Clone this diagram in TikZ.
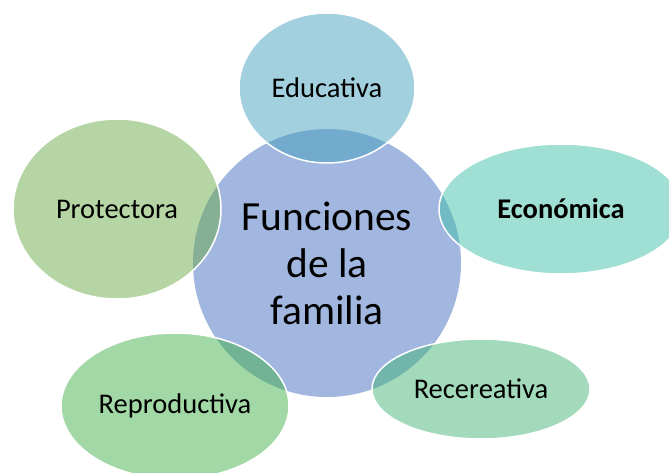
\documentclass[tikz,border=0pt]{standalone}
\usepackage{fontspec}
\setmainfont{Carlito}
\usetikzlibrary{shapes.geometric}
\definecolor{centro}{RGB}{161,183,224}
\definecolor{azul}{RGB}{71,161,189}
\definecolor{turquesa}{RGB}{65,191,169}
\definecolor{oliva}{RGB}{109,171,75}
\definecolor{verde}{RGB}{69,177,75}
\definecolor{menta}{RGB}{69,181,119}
\begin{document}
\begin{tikzpicture}[x=1pt, y=-1pt,
    nucleo/.style={circle, fill=centro, inner sep=0pt, minimum size=268pt, align=center,
                   font=\fontsize{41.5}{47}\selectfont},
    funcion/.style={ellipse, draw=white, line width=1.5pt, fill opacity=0.5, text opacity=1,
                    inner sep=0pt, font=\fontsize{28.5}{34}\selectfont}]
    \useasboundingbox (0,0) rectangle (669,473);
    % centro
    \node[nucleo] (familia) at (327,263) {Funciones\\de la\\familia};
    % funciones alrededor
    \node[funcion, fill=azul, minimum width=176pt, minimum height=150pt] (educativa) at (327,88) {Educativa};
    \node[funcion, fill=turquesa, minimum width=244pt, minimum height=130pt] (economica) at (561,209) {\bfseries Económica};
    \node[funcion, fill=menta, minimum width=218pt, minimum height=100pt] (recreativa) at (481,389) {Recereativa};
    \node[funcion, fill=verde, minimum width=228pt, minimum height=146pt] (reproductiva) at (175,406) {Reproductiva};
    \node[funcion, fill=oliva, minimum width=208pt, minimum height=180pt] (protectora) at (117,209) {Protectora};
\end{tikzpicture}
\end{document}
